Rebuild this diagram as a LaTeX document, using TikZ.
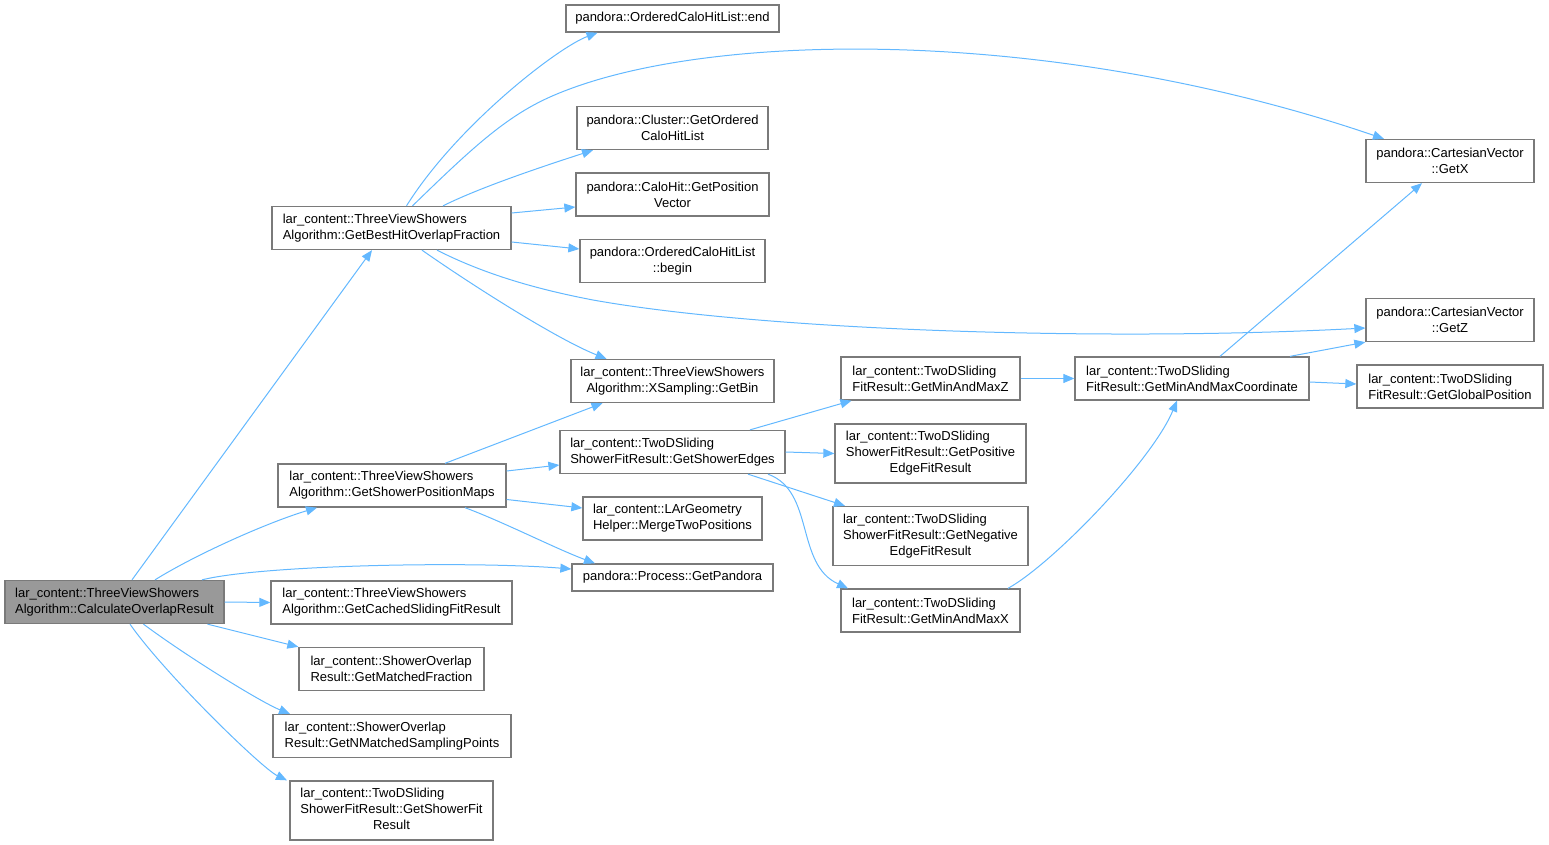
\documentclass[tikz,border=0pt]{standalone}
\usepackage{fontspec}
\setmainfont{Liberation Sans}
\usetikzlibrary{arrows.meta}
\definecolor{Edge_blue}{RGB}{99, 184, 255}
\definecolor{Box_border}{RGB}{122, 122, 122}
\definecolor{Root_fill}{RGB}{153, 153, 153}
\tikzset{
    fn/.style={draw=Box_border, line width=1.3pt, fill=white, inner sep=0pt,
        font=\fontsize{13}{16}\selectfont, minimum height=43pt},
    fn left/.style={fn, align=left},
    fn centre/.style={fn, align=center},
    call/.style={draw=Edge_blue, line width=1pt, -{Triangle[length=11pt, width=9pt]}}
}

\begin{document}
\begin{tikzpicture}[x=1pt, y=-1pt]
    \useasboundingbox (0,0) rectangle (1549,845);

    %% Column 1
    \node[fn left, fill=Root_fill, minimum width=219pt] (calcOverlap) at (114.5,602)
        {lar\_content::ThreeViewShowers\\Algorithm::CalculateOverlapResult};

    %% Column 2
    \node[fn left, minimum width=239pt] (bestHit) at (391.5,228)
        {lar\_content::ThreeViewShowers\\Algorithm::GetBestHitOverlapFraction};
    \node[fn left, minimum width=228pt] (positionMaps) at (392,485.5)
        {lar\_content::ThreeViewShowers\\Algorithm::GetShowerPositionMaps};
    \node[fn left, minimum width=241pt] (cachedFit) at (391.5,602.5)
        {lar\_content::ThreeViewShowers\\Algorithm::GetCachedSlidingFitResult};
    \node[fn left, minimum width=185pt] (matchedFrac) at (391.5,669)
        {lar\_content::ShowerOverlap\\Result::GetMatchedFraction};
    \node[fn left, minimum width=238pt] (nMatched) at (392,736)
        {lar\_content::ShowerOverlap\\Result::GetNMatchedSamplingPoints};
    \node[fn, minimum width=203pt, minimum height=59pt] (showerFit) at (391.5,810.5)
        {\begin{tabular}{@{}l@{}}lar\_content::TwoDSliding\\ShowerFitResult::GetShowerFit\\\multicolumn{1}{@{}c@{}}{Result}\end{tabular}};

    %% Column 3
    \node[fn, minimum width=213pt, minimum height=27pt] (caloEnd) at (672.5,18.5)
        {pandora::OrderedCaloHitList::end};
    \node[fn centre, minimum width=191pt] (orderedList) at (672.5,128)
        {pandora::Cluster::GetOrdered\\CaloHitList};
    \node[fn centre, minimum width=193pt] (positionVector) at (672.5,194.5)
        {pandora::CaloHit::GetPosition\\Vector};
    \node[fn centre, minimum width=185pt] (caloBegin) at (672.5,261)
        {pandora::OrderedCaloHitList\\::begin};
    \node[fn centre, minimum width=203pt] (getBin) at (672.5,381)
        {lar\_content::ThreeViewShowers\\Algorithm::XSampling::GetBin};
    \node[fn left, minimum width=225pt] (showerEdges) at (672.5,452)
        {lar\_content::TwoDSliding\\ShowerFitResult::GetShowerEdges};
    \node[fn left, minimum width=179pt] (mergeTwo) at (672.5,518.5)
        {lar\_content::LArGeometry\\Helper::MergeTwoPositions};
    \node[fn, minimum width=201pt, minimum height=27pt] (getPandora) at (672.5,577.5)
        {pandora::Process::GetPandora};

    %% Column 4
    \node[fn left, minimum width=179pt] (minMaxZ) at (930.5,378.5)
        {lar\_content::TwoDSliding\\FitResult::GetMinAndMaxZ};
    \node[fn, minimum width=191pt, minimum height=59pt] (posEdge) at (930.5,453.5)
        {\begin{tabular}{@{}l@{}}lar\_content::TwoDSliding\\ShowerFitResult::GetPositive\\\multicolumn{1}{@{}c@{}}{EdgeFitResult}\end{tabular}};
    \node[fn, minimum width=195pt, minimum height=59pt] (negEdge) at (930.5,536)
        {\begin{tabular}{@{}l@{}}lar\_content::TwoDSliding\\ShowerFitResult::GetNegative\\\multicolumn{1}{@{}c@{}}{EdgeFitResult}\end{tabular}};
    \node[fn left, minimum width=179pt] (minMaxX) at (930.5,610.5)
        {lar\_content::TwoDSliding\\FitResult::GetMinAndMaxX};

    %% Column 5
    \node[fn left, minimum width=234pt] (minMaxCoord) at (1192,378.5)
        {lar\_content::TwoDSliding\\FitResult::GetMinAndMaxCoordinate};

    %% Column 6
    \node[fn centre, minimum width=168pt] (getX) at (1450,161)
        {pandora::CartesianVector\\::GetX};
    \node[fn centre, minimum width=168pt] (getZ) at (1450,320)
        {pandora::CartesianVector\\::GetZ};
    \node[fn left, minimum width=186pt] (globalPos) at (1450,386.5)
        {lar\_content::TwoDSliding\\FitResult::GetGlobalPosition};

    %% Calls from CalculateOverlapResult
    \draw[call] ([xshift=17.5]calcOverlap.north) -- ([xshift=-19.5]bestHit.south);
    \draw[call] ([xshift=40.5]calcOverlap.north) .. controls +(40,-25) and +(-50,15) .. ([xshift=-75]positionMaps.south);
    \draw[call] ([xshift=87.5]calcOverlap.north) .. controls +(60,-15) and +(-100,-8) .. ([yshift=8.5]getPandora.west);
    \draw[call] (calcOverlap.east) -- (cachedFit.west);
    \draw[call] ([xshift=93]calcOverlap.south) -- (matchedFrac.north west);
    \draw[call] ([xshift=29]calcOverlap.south) .. controls +(40,30) and +(-30,-12) .. ([xshift=-102]nMatched.north);
    \draw[call] ([xshift=15.5]calcOverlap.south) .. controls +(35,50) and +(-25,-12) .. ([xshift=-104.5]showerFit.north);

    %% Calls from GetBestHitOverlapFraction
    \draw[call] ([xshift=15]bestHit.north) .. controls +(50,-80) and +(-40,15) .. ([xshift=-75]caloEnd.south);
    \draw[call] ([xshift=21]bestHit.north) .. controls (470,150) and (505,117) .. (550,97)
        .. controls (700,30) and (1050,25) .. ([xshift=-66]getX.north);
    \draw[call] ([xshift=51.5]bestHit.north) .. controls +(40,-20) and +(-40,13) .. ([xshift=-79.5]orderedList.south);
    \draw[call] ([yshift=15]bestHit.east) -- ([yshift=-12.5]positionVector.west);
    \draw[call] ([yshift=-14]bestHit.east) -- ([yshift=12]caloBegin.west);
    \draw[call] ([xshift=30.5]bestHit.south) .. controls +(50,35) and +(-50,-20) .. ([xshift=-66]getBin.north);
    \draw[call] ([xshift=45.5]bestHit.south) .. controls (480,272) and (530,288) .. (593,300)
        .. controls (760,330) and (1100,342) .. ([yshift=-8]getZ.west);

    %% Calls from GetShowerPositionMaps
    \draw[call] ([xshift=53]positionMaps.north) -- ([xshift=-70]getBin.south);
    \draw[call] ([yshift=14.5]positionMaps.east) -- ([yshift=-13]showerEdges.west);
    \draw[call] ([yshift=-14]positionMaps.east) -- ([yshift=10.5]mergeTwo.west);
    \draw[call] ([xshift=73]positionMaps.south) .. controls +(40,15) and +(-40,-15) .. ([xshift=-77.5]getPandora.north);

    %% Calls from GetShowerEdges
    \draw[call] ([xshift=77.5]showerEdges.north) -- ([xshift=-79]minMaxZ.south);
    \draw[call] (showerEdges.east) -- (posEdge.west);
    \draw[call] ([xshift=75.5]showerEdges.south) -- ([xshift=-85.5]negEdge.north);
    \draw[call] ([xshift=95.5]showerEdges.south) .. controls +(47,17) and +(-53,-24) .. ([xshift=-82.5]minMaxX.north);

    %% Calls into GetMinAndMaxCoordinate and beyond
    \draw[call] (minMaxZ.east) -- (minMaxCoord.west);
    \draw[call] ([xshift=77.5]minMaxX.north) .. controls +(45,-25) and +(-25,60) .. ([xshift=-15]minMaxCoord.south);
    \draw[call] ([xshift=28]minMaxCoord.north) -- ([xshift=-28]getX.south);
    \draw[call] ([xshift=98]minMaxCoord.north) -- (getZ.south west);
    \draw[call] ([yshift=-3.5]minMaxCoord.east) -- ([yshift=2.5]globalPos.west);
\end{tikzpicture}
\end{document}
